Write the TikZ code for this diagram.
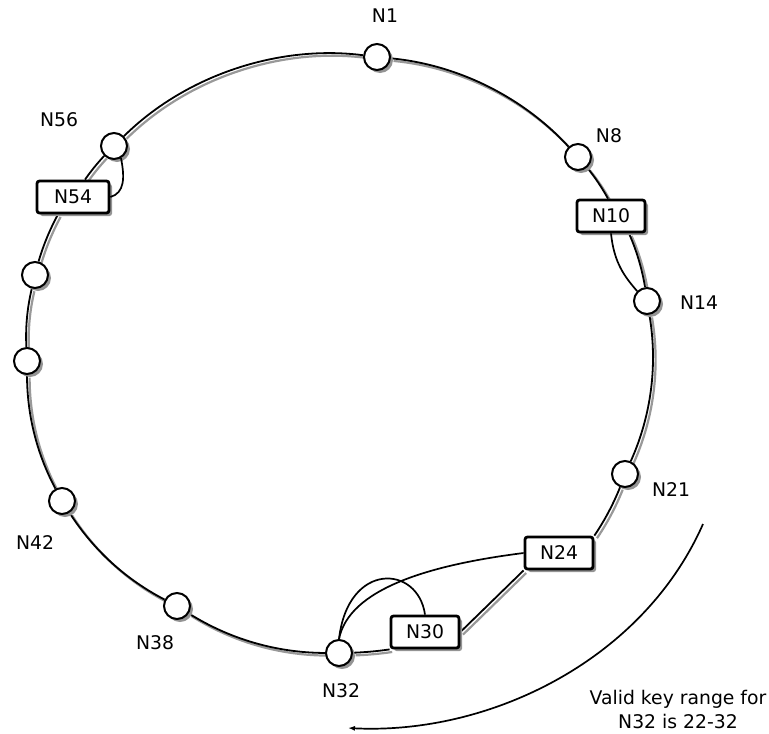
\documentclass[tikz,border=0pt]{standalone}
\usepackage{fontspec}
\setmainfont{DejaVu Sans}
\usetikzlibrary{shadows,backgrounds,arrows.meta}
\begin{document}
\begin{tikzpicture}[x=1pt,y=-1pt,
  every node/.style={font=\fontsize{18.8}{24}\selectfont},
  softshadow/.style={drop shadow={shadow xshift=3pt, shadow yshift=-3pt, fill=black!42, opacity=1}},
  peer/.style={circle, draw=black, line width=2pt, fill=white, minimum size=26pt, inner sep=0pt, softshadow},
  keybox/.style={rectangle, rounded corners=2.5pt, draw=black, line width=2.8pt, fill=white,
    minimum width=68pt, minimum height=32pt, inner sep=0pt, softshadow},
  ring/.style={line width=1.8pt, looseness=0.87,
    preaction={draw=black!40, line width=2.2pt, transform canvas={shift={(2.6pt,-2.6pt)}}}},
  lookup/.style={line width=1.7pt},
  nlabel/.style={inner sep=0pt}
]
\useasboundingbox (0,0) rectangle (769,734);

% peers on the identifier circle
\node[peer] (n1)  at (377,57)  {};
\node[peer] (n8)  at (578,157) {};
\node[peer] (n14) at (647,301) {};
\node[peer] (n21) at (625,474) {};
\node[peer] (n32) at (339,653) {};
\node[peer] (n38) at (177,606) {};
\node[peer] (n42) at (62,501)  {};
\node[peer] (n48) at (27,361)  {};
\node[peer] (n51) at (35,275)  {};
\node[peer] (n56) at (114,146) {};

% keys placed on the circle
\node[keybox] (k10) at (611,216) {N10};
\node[keybox] (k24) at (559,553) {N24};
\node[keybox] (k30) at (425,632) {N30};
\node[keybox, minimum width=72pt] (k54) at (73,197) {N54};

% peer names
\node[nlabel] (l1)  at (385,16)  {N1};
\node[nlabel] (l8)  at (609,136) {N8};
\node[nlabel] (l14) at (699,303) {N14};
\node[nlabel] (l21) at (671,490) {N21};
\node[nlabel] (l32) at (341,691) {N32};
\node[nlabel] (l38) at (155,643) {N38};
\node[nlabel] (l42) at (35,543)  {N42};
\node[nlabel] (l56) at (59,120)  {N56};

% the ring itself, behind peers and keys
\begin{scope}[on background layer]
\draw[ring] (n1) to[bend left=21] (n8);
\draw[ring] (n8) to[bend left=5] ([xshift=-3pt]k10.north);
\draw[ring] ([xshift=18pt]k10.south) to[bend left=7] (n14);
\draw[ring] (n14) to[bend left=17] (n21);
\draw[ring] (n21) to[bend left=6] (k24.north east);
\draw[ring] (k24.south west) -- (k30.east);
\draw[ring] (k30.south west) to[bend left=3] (n32);
\draw[ring] (n32) to[bend left=16] (n38);
\draw[ring] (n38) to[bend left=15] (n42);
\draw[ring] (n42) to[bend left=14] (n48);
\draw[ring] (n48) to[bend left=8] (n51);
\draw[ring] (n51) to[bend left=6] ([xshift=-15pt]k54.south);
\draw[ring] ([xshift=12pt]k54.north) to[bend left=4] (n56);
\draw[ring] (n56) to[bend left=26] (n1);
\end{scope}

% each key points to the peer that stores it
\draw[lookup] (k10.south) .. controls +(3,30) and +(-12,-14) .. (n14.north west);
\draw[lookup] (k54.east) .. controls +(14,-4) and +(4,20) .. (n56.-60);
\draw[lookup] (k24.west) .. controls +(-95,12) and +(10,-50) .. (n32.north);
\draw[lookup] (k30.north) .. controls +(-7,-50) and +(9,-78) .. (n32.north);

% range note
\coordinate (rs) at (703,524);
\coordinate (re) at (348,728);
\draw[lookup, -{Latex[length=7pt,width=5pt]}] (rs) .. controls (643,660) and (490,735) .. (re);
\node[align=center, inner sep=0pt] (note) at (678,709) {Valid key range for\\N32 is 22-32};
\end{tikzpicture}
\end{document}
